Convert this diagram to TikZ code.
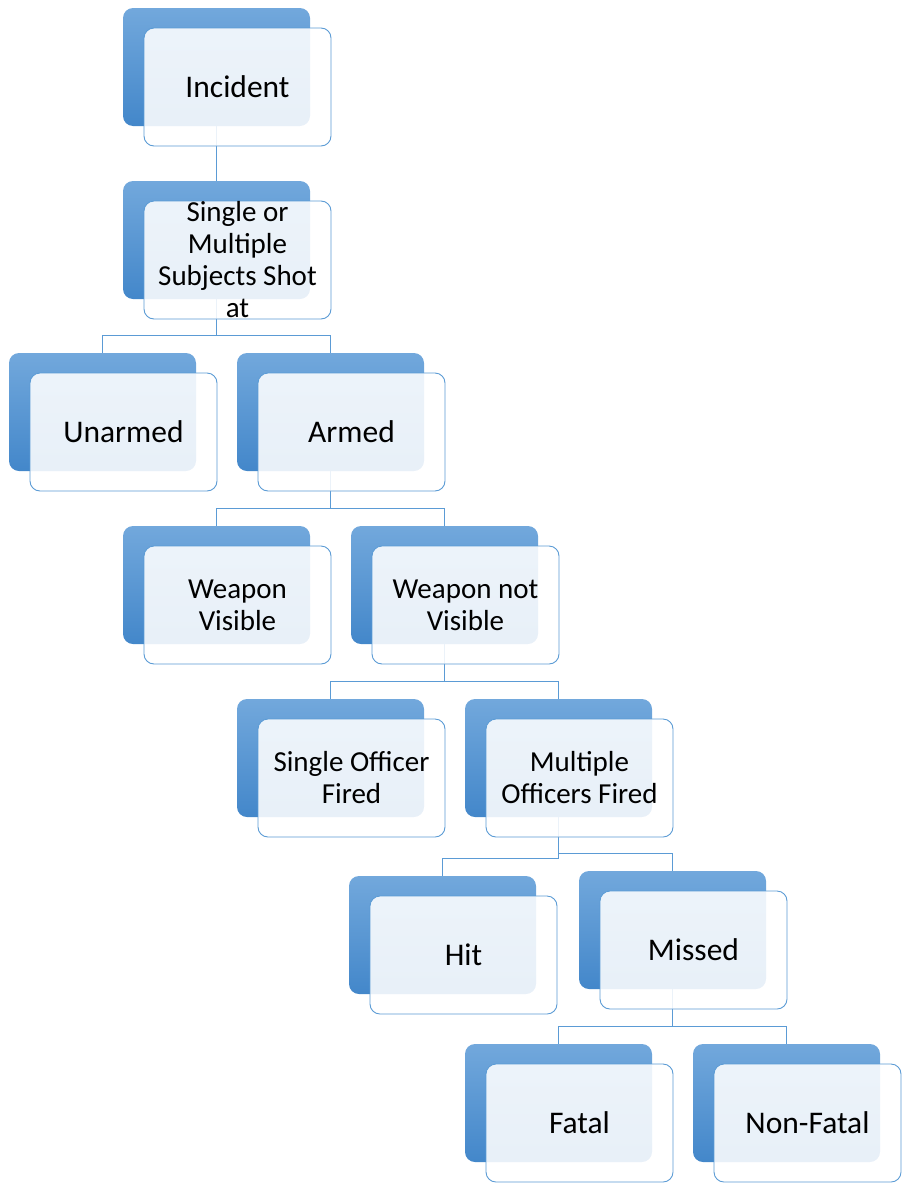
\documentclass[tikz,border=0pt]{standalone}
\usepackage{fontspec}
\setmainfont{Carlito}
\definecolor{accent}{HTML}{5B9BD5}
\definecolor{backtop}{HTML}{72A8DC}
\definecolor{backbot}{HTML}{4387CA}
\begin{document}
\begin{tikzpicture}[x=1pt,y=-1pt,
  backbox/.style={rectangle, rounded corners=10pt, minimum width=187pt, minimum height=118pt, inner sep=0pt,
    top color=backtop, bottom color=backbot, draw=none},
  frontbox/.style={rectangle, rounded corners=10pt, minimum width=187pt, minimum height=118pt, inner sep=0pt,
    draw=accent, line width=0.9pt, fill=white, fill opacity=0.88, text opacity=1,
    align=center, font=\fontsize{31.5}{34}\selectfont},
  multi/.style={font=\fontsize{29}{32}\selectfont},
  link/.style={draw=accent, line width=1.2pt}]
\useasboundingbox (0,0) rectangle (904,1183);
% back boxes (top-left + (93.5,59))
\node[backbox] (b1)  at (216.5,67) {};
\node[backbox] (b2)  at (216.5,240) {};
\node[backbox] (b3)  at (102.5,412) {};
\node[backbox] (b4)  at (330.5,412) {};
\node[backbox] (b5)  at (216.5,585) {};
\node[backbox] (b6)  at (444.5,585) {};
\node[backbox] (b7)  at (330.5,758) {};
\node[backbox] (b8)  at (558.5,758) {};
\node[backbox] (b9)  at (442.5,935) {};
\node[backbox] (b10) at (672.5,930) {};
\node[backbox] (b11) at (558.5,1103) {};
\node[backbox] (b12) at (786.5,1103) {};
% connectors
\draw[link] (b1.south) -- (b2.north);
\foreach \p/\c in {b2/b3,b2/b4,b4/b5,b4/b6,b6/b7,b6/b8,b8/b9,b8/b10,b10/b11,b10/b12}
  \draw[link] (\p.south) |- ([yshift=17.5pt]\c.north) -- (\c.north);
% front boxes (back centre + (21,20))
\node[frontbox] (n1)  at (237.5,87) {Incident};
\node[frontbox,multi] (n2)  at (237.5,260) {Single or\\Multiple\\Subjects Shot\\at};
\node[frontbox] (n3)  at (123.5,432) {Unarmed};
\node[frontbox] (n4)  at (351.5,432) {Armed};
\node[frontbox,multi] (n5)  at (237.5,605) {Weapon\\Visible};
\node[frontbox,multi] (n6)  at (465.5,605) {Weapon not\\Visible};
\node[frontbox,multi] (n7)  at (351.5,778) {Single Officer\\Fired};
\node[frontbox,multi] (n8)  at (579.5,778) {Multiple\\Officers Fired};
\node[frontbox] (n9)  at (463.5,955) {Hit};
\node[frontbox] (n10) at (693.5,950) {Missed};
\node[frontbox] (n11) at (579.5,1123) {Fatal};
\node[frontbox] (n12) at (807.5,1123) {Non-Fatal};
\end{tikzpicture}
\end{document}
